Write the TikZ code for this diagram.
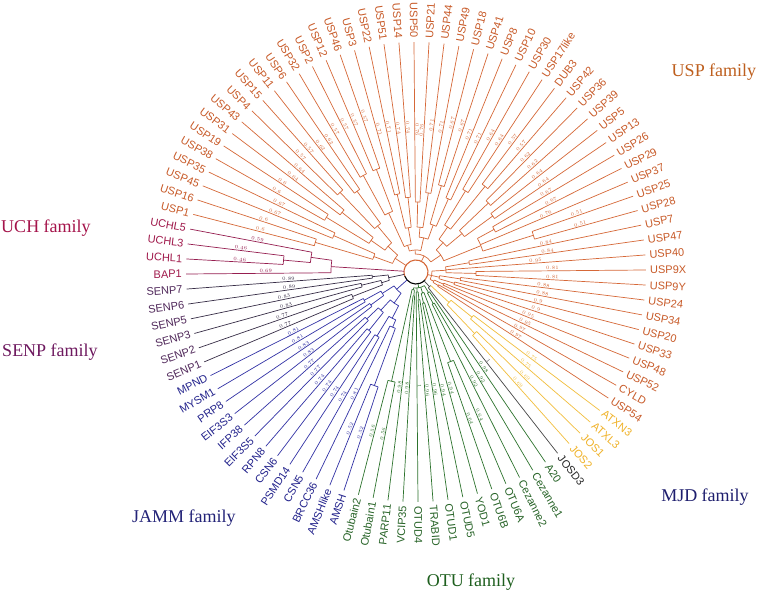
\documentclass[tikz,border=0pt]{standalone}
\usepackage{fontspec}
\setmainfont{Liberation Serif}
\newfontfamily\lsans{Liberation Sans}
\definecolor{uspL}{RGB}{214,104,56}
\definecolor{uspT}{RGB}{200,90,40}
\definecolor{uchL}{RGB}{150,30,80}
\definecolor{uchT}{RGB}{160,25,75}
\definecolor{senpL}{RGB}{55,45,70}
\definecolor{senpT}{RGB}{80,40,90}
\definecolor{jammL}{RGB}{50,50,165}
\definecolor{jammT}{RGB}{35,35,140}
\definecolor{otuL}{RGB}{45,115,45}
\definecolor{otuT}{RGB}{40,100,40}
\definecolor{mjdL}{RGB}{242,190,60}
\definecolor{mjdT}{RGB}{240,178,40}
\definecolor{josdL}{RGB}{70,70,70}
\definecolor{josdT}{RGB}{40,40,40}
\definecolor{famUSP}{RGB}{190,95,30}
\definecolor{famUCH}{RGB}{165,20,75}
\definecolor{famSENP}{RGB}{110,25,95}
\definecolor{famJAMM}{RGB}{35,35,120}
\definecolor{famOTU}{RGB}{30,95,30}
\definecolor{famMJD}{RGB}{30,30,110}
\tikzset{
  lbl/.style={font=\lsans\fontsize{11}{11}\selectfont, inner sep=0pt},
  blen/.style={font=\lsans\fontsize{3.6}{3.6}\selectfont, inner sep=0.6pt},
  fam/.style={font=\fontsize{18}{18}\selectfont, inner sep=0pt},
  br/.style={line width=0.7pt},
}
\begin{document}
\begin{tikzpicture}[x=1pt,y=1pt]
\fill[white] (-416,-319) rectangle (345,272);
\useasboundingbox (-416,-319) rectangle (345,272);
% root circle
\coordinate (root) at (0,0);
\draw[line width=1.1pt, draw=uspL] (root) ++(-40:12) arc[start angle=-40, end angle=200, radius=12pt];
\draw[line width=1.1pt, draw=black] (root) ++(200:12) arc[start angle=200, end angle=320, radius=12pt];
% internal arcs: radius / from index / to index / colour
\foreach \rr/\pp/\qq/\cl in {
 26/-8/-7/usp, 30/-6/-5/usp, 20/-7.5/-5.5/usp, 40/-4/-3/usp, 45/-2/-1/usp, 24/-3.5/-1.5/usp,
 60/0/1/usp, 54/3/4/usp, 30/0.5/3.5/usp, 16/-6.5/1.75/usp,
 123/5/6/usp, 89/8/9/usp, 70/5.5/8.5/usp, 95/10/11/usp, 100/12/13/usp, 110/14/15/usp, 95/16/17/usp,
 60/10.5/12.5/usp, 55/14.5/16.5/usp, 40/11.5/15.5/usp, 30/6.75/13.5/usp,
 80/18/19/usp, 90/20/21/usp, 80/22/23/usp, 70/24/25/usp, 50/18.5/20.5/usp, 45/22.5/24.5/usp, 35/19.5/23.5/usp,
 75/26/27/usp, 80/28/29/usp, 110/30/31/usp, 110/32/33/usp, 45/26.5/28.5/usp, 65/30.5/32.5/usp, 28/27.5/31.5/usp,
 22/21.5/29.5/usp, 18/10/25.5/usp,
 100/34/35/usp, 110/36/37/usp, 95/38/39/usp, 105/40/41/usp, 90/42/43/usp, 105/44/45/usp,
 60/34.5/36.5/usp, 55/38.5/40.5/usp, 38/35.5/39.5/usp, 45/42.5/44.5/usp, 25/37.5/43.5/usp,
 133/47/48/uch, 106/46/47.5/uch, 85/46.75/49/uch,
 44/50/51/senp, 56/52/53/senp, 68/54/55/senp, 36/52.5/54.5/senp, 28/50.5/53.5/senp,
 59/56/57/jamm, 56/58/59/jamm, 40/56.5/58.5/jamm, 68/60/61/jamm, 75/62/63/jamm, 52/60.5/62.5/jamm,
 75/64/65/jamm, 121/67/68/jamm, 60/66/67.5/jamm, 52/64.5/66.75/jamm, 38/61.5/65.6/jamm, 26/57.5/63.5/jamm,
 112/69/70/otu, 24/71/72/otu, 18/69.5/71.5/otu, 28/74/75/otu, 20/73/74.5/otu, 32/76/77/otu, 96/78/79/otu,
 22/76.5/78.5/otu, 36/80/81/otu, 24/80.5/82/otu, 16/70.5/81.25/otu,
 85/84/85/mjd, 72/86/87/mjd, 45/84.5/86.5/mjd, 20/83/85.5/josd}{
  \pgfmathsetmacro\aa{0.5+(\pp-1)*3.75}
  \pgfmathsetmacro\bb{0.5+(\qq-1)*3.75}
  \edef\lcol{\cl L}
  \draw[br, draw=\lcol] (root) ++(\aa:\rr) arc[start angle=\aa, end angle=\bb, radius=\rr pt];
}
% internal stems: mid index / inner radius / outer radius / colour
\foreach \mm/\ra/\rb/\cl in {
 -7.5/20/26/usp, -5.5/20/30/usp, -6.5/16/20/usp, -3.5/24/40/usp, -1.5/24/45/usp, -2.5/12/24/usp,
 0.5/30/60/usp, 3.5/30/54/usp, 1.75/16/30/usp,
 5.5/70/123/usp, 8.5/70/89/usp, 6.75/30/70/usp, 10.5/60/95/usp, 12.5/60/100/usp, 14.5/55/110/usp, 16.5/55/95/usp,
 11.5/40/60/usp, 15.5/40/55/usp, 13.5/30/40/usp, 10/18/30/usp,
 18.5/50/80/usp, 20.5/50/90/usp, 22.5/45/80/usp, 24.5/45/70/usp, 19.5/35/50/usp, 23.5/35/45/usp, 21.5/22/35/usp,
 26.5/45/75/usp, 28.5/45/80/usp, 30.5/65/110/usp, 32.5/65/110/usp, 27.5/28/45/usp, 31.5/28/65/usp, 29.5/22/28/usp,
 25.5/18/22/usp, 17.75/12/18/usp,
 34.5/60/100/usp, 36.5/60/110/usp, 38.5/55/95/usp, 40.5/55/105/usp, 35.5/38/60/usp, 39.5/38/55/usp,
 42.5/45/90/usp, 44.5/45/105/usp, 37.5/25/38/usp, 43.5/25/45/usp, 40/12/25/usp,
 47.5/106/133/uch, 46.75/85/106/uch, 47.9/12/85/uch,
 50.5/28/44/senp, 52.5/36/56/senp, 54.5/36/68/senp, 53.5/28/36/senp, 52/12/28/senp,
 56.5/40/59/jamm, 58.5/40/56/jamm, 57.5/26/40/jamm, 60.5/52/68/jamm, 62.5/52/75/jamm, 61.5/38/52/jamm,
 64.5/52/75/jamm, 67.5/60/121/jamm, 66.75/52/60/jamm, 65.6/38/52/jamm, 63.5/26/38/jamm, 60/12/26/jamm,
 69.5/18/112/otu, 71.5/18/24/otu, 70.5/16/18/otu, 74.5/20/28/otu, 73.75/16/20/otu, 76.5/22/32/otu,
 78.5/22/96/otu, 77.5/16/22/otu, 80.5/24/36/otu, 81.25/16/24/otu, 75.5/12/16/otu,
 84.5/45/85/mjd, 86.5/45/72/mjd, 85.5/20/45/mjd, 84.25/12/20/josd}{
  \pgfmathsetmacro\aa{0.5+(\mm-1)*3.75}
  \pgfmathsetmacro\dd{\rb-\ra}
  \edef\lcol{\cl L}
  \draw[br, draw=\lcol] (root) ++(\aa:\ra) -- ++(\aa:\dd);
}
% leaves: index / name / join radius / colour
\foreach \ii/\nm/\rj/\cl in {
 -8/USP54/26/usp, -7/CYLD/26/usp, -6/USP52/30/usp, -5/USP48/30/usp, -4/USP33/40/usp, -3/USP20/40/usp,
 -2/USP34/45/usp, -1/USP24/45/usp, 0/USP9Y/60/usp, 1/USP9X/60/usp, 2/USP40/30/usp, 3/USP47/54/usp,
 4/USP7/54/usp, 5/USP28/123/usp, 6/USP25/123/usp, 7/USP37/70/usp, 8/USP29/89/usp, 9/USP26/89/usp,
 10/USP13/95/usp, 11/USP5/95/usp, 12/USP39/100/usp, 13/USP36/100/usp, 14/USP42/110/usp, 15/DUB3/110/usp,
 16/USP17like/95/usp, 17/USP30/95/usp, 18/USP10/80/usp, 19/USP8/80/usp, 20/USP41/90/usp, 21/USP18/90/usp,
 22/USP49/80/usp, 23/USP44/80/usp, 24/USP21/70/usp, 25/USP50/70/usp, 26/USP14/75/usp, 27/USP51/75/usp,
 28/USP22/80/usp, 29/USP3/80/usp, 30/USP46/110/usp, 31/USP12/110/usp, 32/USP2/110/usp, 33/USP32/110/usp,
 34/USP6/100/usp, 35/USP11/100/usp, 36/USP15/110/usp, 37/USP4/110/usp, 38/USP43/95/usp, 39/USP31/95/usp,
 40/USP19/105/usp, 41/USP38/105/usp, 42/USP35/90/usp, 43/USP45/90/usp, 44/USP16/105/usp, 45/USP1/105/usp,
 46/UCHL5/106/uch, 47/UCHL3/133/uch, 48/UCHL1/133/uch, 49/BAP1/85/uch,
 50/SENP7/44/senp, 51/SENP6/44/senp, 52/SENP5/56/senp, 53/SENP3/56/senp, 54/SENP2/68/senp, 55/SENP1/68/senp,
 56/MPND/59/jamm, 57/MYSM1/59/jamm, 58/PRP8/56/jamm, 59/EIF3S3/56/jamm, 60/IFP38/68/jamm, 61/EIF3S5/68/jamm,
 62/RPN8/75/jamm, 63/CSN6/75/jamm, 64/PSMD14/75/jamm, 65/CSN5/75/jamm, 66/BRCC36/60/jamm,
 67/AMSHlike/121/jamm, 68/AMSH/121/jamm,
 69/Otubain2/112/otu, 70/Otubain1/112/otu, 71/PARP11/24/otu, 72/VCIP35/24/otu, 73/OTUD4/20/otu,
 74/TRABID/28/otu, 75/OTUD1/28/otu, 76/OTUD5/32/otu, 77/YOD1/32/otu, 78/OTU6B/96/otu, 79/OTU6A/96/otu,
 80/Cezanne2/36/otu, 81/Cezanne1/36/otu, 82/A20/24/otu,
 83/JOSD3/20/josd, 84/JOS2/85/mjd, 85/JOS1/85/mjd, 86/ATXL3/72/mjd, 87/ATXN3/72/mjd}{
  \pgfmathsetmacro\ang{0.5+(\ii-1)*3.75}
  \pgfmathsetmacro\bl{(230-\rj)/210}
  \edef\lcol{\cl L}\edef\tcol{\cl T}
  \coordinate (j\nm) at (\ang:\rj);
  \coordinate (e\nm) at (\ang:230);
  \draw[br, draw=\lcol] (j\nm) -- node[blen, text=\lcol, pos=0.45, sloped, above]{\pgfmathprintnumber[fixed,precision=2]{\bl}} (e\nm);
  \pgfmathsetmacro\rot{\ang}\def\anc{west}
  \ifdim\ang pt>90pt \ifdim\ang pt<270pt \pgfmathsetmacro\rot{\ang-180}\def\anc{east}\fi\fi
  \node[lbl, text=\tcol, rotate=\rot, anchor=\anc] (\nm) at (\ang:234) {\nm};
}
% family labels
\node[fam, text=famUSP]  (fUSP)  at (298,200)   {USP family};
\node[fam, text=famUCH]  (fUCH)  at (-370,44)   {UCH family};
\node[fam, text=famSENP] (fSENP) at (-366,-80)  {SENP family};
\node[fam, text=famJAMM] (fJAMM) at (-232,-246) {JAMM family};
\node[fam, text=famOTU]  (fOTU)  at (55,-310)   {OTU family};
\node[fam, text=famMJD]  (fMJD)  at (289,-225)  {MJD family};
\end{tikzpicture}
\end{document}
